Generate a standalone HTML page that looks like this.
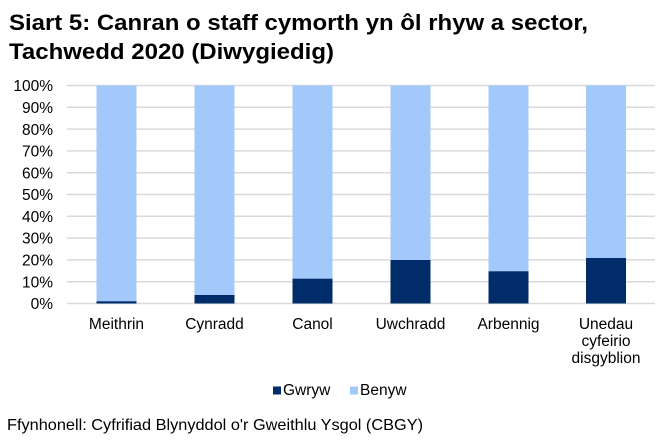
<!DOCTYPE html>
<html><head><meta charset="utf-8"><style>
html,body{margin:0;padding:0;background:#fff;}
svg{display:block;font-family:"Liberation Sans",Arial,sans-serif;}
</style></head><body>
<svg width="663" height="445" viewBox="0 0 663 445" xmlns="http://www.w3.org/2000/svg">
<rect width="663" height="445" fill="#fff"/>
<text x="9" y="30" font-size="22.5" font-weight="bold" fill="#000" textLength="579" lengthAdjust="spacingAndGlyphs">Siart 5: Canran o staff cymorth yn ôl rhyw a sector,</text>
<text x="9" y="59" font-size="22.5" font-weight="bold" fill="#000" textLength="325" lengthAdjust="spacingAndGlyphs">Tachwedd 2020 (Diwygiedig)</text>
<g stroke="#d9d9d9" stroke-width="1.5">
<line x1="67" x2="655" y1="85.5" y2="85.5"/>
<line x1="67" x2="655" y1="107.3" y2="107.3"/>
<line x1="67" x2="655" y1="129.1" y2="129.1"/>
<line x1="67" x2="655" y1="150.9" y2="150.9"/>
<line x1="67" x2="655" y1="172.7" y2="172.7"/>
<line x1="67" x2="655" y1="194.5" y2="194.5"/>
<line x1="67" x2="655" y1="216.3" y2="216.3"/>
<line x1="67" x2="655" y1="238.1" y2="238.1"/>
<line x1="67" x2="655" y1="259.9" y2="259.9"/>
<line x1="67" x2="655" y1="281.7" y2="281.7"/>
<line x1="67" x2="655" y1="303.5" y2="303.5"/>
</g>
<g font-size="15.5" fill="#000" text-anchor="end">
<text x="53" y="91">100%</text>
<text x="53" y="113">90%</text>
<text x="53" y="135">80%</text>
<text x="53" y="156.5">70%</text>
<text x="53" y="178.5">60%</text>
<text x="53" y="200">50%</text>
<text x="53" y="222">40%</text>
<text x="53" y="243.5">30%</text>
<text x="53" y="265.5">20%</text>
<text x="53" y="287.5">10%</text>
<text x="53" y="309">0%</text>
</g>
<g>
<rect x="96.5" y="85.5" width="40" height="218" fill="#a3c9fa"/>
<rect x="96.5" y="301.3" width="40" height="2.2" fill="#002d6a"/>
<rect x="194.5" y="85.5" width="40" height="218" fill="#a3c9fa"/>
<rect x="194.5" y="295" width="40" height="8.5" fill="#002d6a"/>
<rect x="292.5" y="85.5" width="40" height="218" fill="#a3c9fa"/>
<rect x="292.5" y="278.7" width="40" height="24.8" fill="#002d6a"/>
<rect x="390.5" y="85.5" width="40" height="218" fill="#a3c9fa"/>
<rect x="390.5" y="260" width="40" height="43.5" fill="#002d6a"/>
<rect x="488.5" y="85.5" width="40" height="218" fill="#a3c9fa"/>
<rect x="488.5" y="271.3" width="40" height="32.2" fill="#002d6a"/>
<rect x="586" y="85.5" width="40" height="218" fill="#a3c9fa"/>
<rect x="586" y="258" width="40" height="45.5" fill="#002d6a"/>
</g>
<g font-size="15.5" fill="#000" text-anchor="middle">
<text x="116.5" y="329">Meithrin</text>
<text x="214.5" y="329">Cynradd</text>
<text x="312.5" y="329">Canol</text>
<text x="410.5" y="329">Uwchradd</text>
<text x="508.5" y="329">Arbennig</text>
<text x="606" y="329">Unedau</text>
<text x="606" y="346">cyfeirio</text>
<text x="606" y="363">disgyblion</text>
</g>
<rect x="273" y="386.5" width="8" height="8" fill="#002d6a"/>
<text x="283" y="395" font-size="15.5" fill="#000">Gwryw</text>
<rect x="350" y="386.5" width="8" height="8" fill="#a3c9fa"/>
<text x="360" y="395" font-size="15.5" fill="#000">Benyw</text>
<text x="7" y="430" font-size="16" fill="#000" textLength="416" lengthAdjust="spacingAndGlyphs">Ffynhonell: Cyfrifiad Blynyddol o'r Gweithlu Ysgol (CBGY)</text>
</svg>
</body></html>
